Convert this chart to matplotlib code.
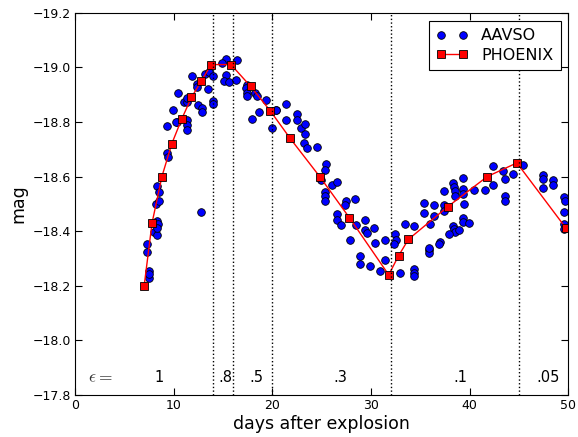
import numpy as np
import matplotlib
matplotlib.use('Agg')
import matplotlib.pyplot as plt

# AAVSO photometry
aavso_day = [7.33, 7.33, 7.54, 7.47, 7.45, 8.01, 8.35, 8.35, 8.42, 8.27, 8.22, 8.55, 8.28, 8.51,
             9.36, 9.46, 9.36, 9.97, 10.38, 11.0, 11.33, 10.48, 11.33, 11.39, 11.33, 11.87, 12.4,
             12.35, 12.44, 12.91, 12.91, 13.46, 13.22, 13.59, 14.03, 13.97, 13.97, 15.31, 14.94,
             16.4, 15.31, 15.14, 15.65, 16.33, 17.41, 17.35, 17.41, 17.47, 18.25, 18.42, 17.98,
             18.69, 10.24, 11.39, 12.8, 19.37, 20.35, 19.94,
             21.37, 20.39, 21.41, 22.48, 22.48, 22.89, 23.33, 23.33, 23.26, 23.5, 24.51, 25.46,
             25.36, 24.95, 26.03, 26.54, 25.36, 25.36, 25.36, 27.48, 27.38, 28.43, 26.54, 26.54,
             26.95, 28.5, 29.44, 29.38, 29.64, 30.35, 27.92, 30.43, 31.41, 28.9, 28.9, 29.92,
             30.93, 31.47, 32.45, 32.52, 32.38, 32.93, 33.47, 34.38, 34.38, 34.38, 34.38,
             35.4, 35.4, 35.93, 35.93,
             36.42, 36.42, 36.0, 37.42, 37.42, 37.42, 38.37, 38.47, 38.54, 38.54, 39.38, 39.38,
             39.38, 39.45, 40.4, 41.6, 42.36, 42.42, 43.43, 43.61, 43.58, 43.58, 44.45, 45.4,
             47.4, 47.4, 47.4, 48.51, 48.51, 49.53, 49.63, 49.53, 49.53, 49.53,
             39.38, 39.38, 39.99, 38.37, 38.47, 38.54, 38.97, 37.96, 37.02, 36.95, 35.93]
aavso_mag = [-18.354, -18.323, -18.256, -18.230, -18.245, -18.398, -18.386, -18.437, -18.425,
             -18.41, -18.498, -18.510, -18.565, -18.543,
             -18.686, -18.671, -18.784, -18.845, -18.799, -18.873, -18.873, -18.906, -18.806,
             -18.788, -18.772, -18.967, -18.938, -18.928, -18.863, -18.851, -18.836, -18.919,
             -18.977, -18.981, -18.967, -18.875, -18.864, -19.032, -19.014, -19.028, -18.971,
             -18.95, -18.946, -18.955, -18.934, -18.926, -18.907, -18.894, -18.906, -18.894,
             -18.811, -18.836, -18.800, -18.889, -18.47, -18.882, -18.845, -18.776,
             -18.864, -18.842, -18.806, -18.830, -18.806, -18.779, -18.791, -18.757, -18.723,
             -18.704, -18.708, -18.647, -18.625, -18.586, -18.568, -18.580, -18.543, -18.527,
             -18.509, -18.51, -18.494, -18.519, -18.464, -18.442, -18.421, -18.421, -18.442,
             -18.405, -18.394, -18.411, -18.369, -18.355, -18.367, -18.309, -18.281, -18.271,
             -18.253, -18.296, -18.391, -18.366, -18.352, -18.248, -18.427, -18.419, -18.26,
             -18.248, -18.236, -18.504, -18.468, -18.33, -18.32,
             -18.497, -18.454, -18.427, -18.547, -18.497, -18.474, -18.576, -18.563, -18.546,
             -18.527, -18.596, -18.556, -18.537, -18.501, -18.552, -18.552, -18.568, -18.637,
             -18.620, -18.592, -18.527, -18.51, -18.608, -18.641, -18.604, -18.592, -18.557,
             -18.586, -18.568, -18.525, -18.51, -18.47, -18.427, -18.409,
             -18.449, -18.433, -18.431, -18.419, -18.407, -18.397, -18.405, -18.388, -18.36,
             -18.352, -18.34]

# PHOENIX model light curve
phx_day = [7.0, 7.8, 8.8, 9.8, 10.8, 11.8, 12.8, 13.8, 15.8, 17.8, 19.8, 21.8, 24.8, 27.8,
           31.8, 32.8, 33.8, 37.8, 41.8, 44.8, 49.8]
phx_mag = [-18.20, -18.43, -18.60, -18.72, -18.81, -18.89, -18.95, -19.01, -19.01, -18.93,
           -18.84, -18.74, -18.60, -18.45, -18.24, -18.31, -18.37, -18.49, -18.60, -18.65, -18.41]

# epsilon epochs
eps_edges = [14, 16, 20, 32, 45]
eps_pos = [8.5, 15.2, 18.4, 26.9, 39.1, 48.0]
eps_text = ['1', '.8', '.5', '.3', '.1', '.05']

fig = plt.figure(figsize=(5.78, 4.37), dpi=100)
ax = fig.add_axes([0.130, 0.096, 0.853, 0.875])

ax.plot(aavso_day, aavso_mag, 'o', color='blue', mec='black', mew=0.6, ms=5.5, label='AAVSO')
ax.plot(phx_day, phx_mag, 's-', color='red', mfc='red', mec='black', mew=0.6, ms=5.5, lw=1,
        label='PHOENIX')

for xe in eps_edges:
    ax.axvline(xe, color='black', ls=':', lw=1)

ax.text(2.6, -17.865, r'$\epsilon=$', fontsize=12.5, color='0.2', ha='center', va='center',
        math_fontfamily='cm')
for xp, t in zip(eps_pos, eps_text):
    ax.text(xp, -17.865, t, fontsize=10.5, ha='center', va='center')

ax.set_xlim(0, 50)
ax.set_ylim(-17.8, -19.2)
ax.set_xticks(np.arange(0, 51, 10))
ax.set_yticks(np.arange(-19.2, -17.79, 0.2))
ax.set_yticklabels(['\u2212%.1f' % abs(v) for v in np.arange(-19.2, -17.79, 0.2)])
ax.tick_params(direction='in', top=True, right=True, labelsize=9, length=5, pad=3)
ax.set_xlabel('days after explosion', fontsize=12.5, labelpad=2)
ax.set_ylabel('mag', fontsize=12.5)

leg = ax.legend(loc='upper right', bbox_to_anchor=(0.985, 0.978), borderaxespad=0,
                numpoints=2, fontsize=11.5, fancybox=False, framealpha=1, edgecolor='black',
                borderpad=0.45, labelspacing=0.3, handlelength=2.0, handletextpad=0.83)
leg.get_frame().set_linewidth(0.8)

fig.savefig('out.png', dpi=100)
